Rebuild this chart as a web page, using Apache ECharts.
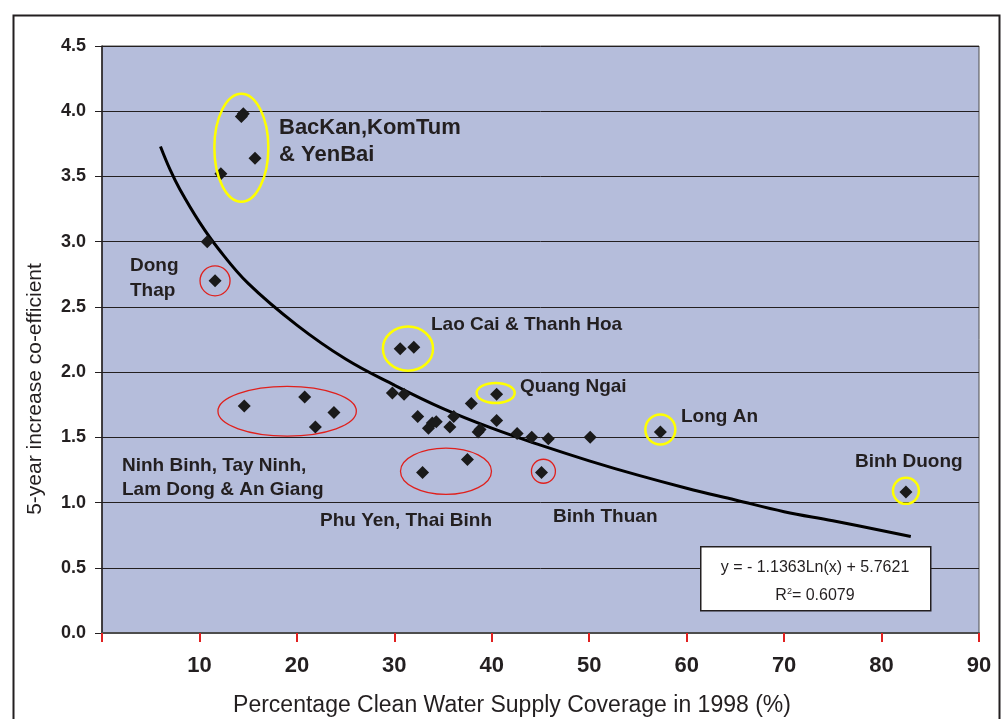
<!DOCTYPE html>
<html>
<head>
<meta charset="utf-8">
<script src="https://cdn.jsdelivr.net/npm/echarts@6/dist/echarts.min.js"></script>
<style>
html,body{margin:0;padding:0;background:#fff;}
#chart{width:1001px;height:719px;}
</style>
</head>
<body>
<div id="chart"></div>
<script>
// ---- data ----
var coverage = [14.5, 14.3, 15.7, 12.2, 10.8, 11.6, 30.6, 32.0, 40.5, 29.8, 31.0, 37.9, 32.4, 33.9, 34.3, 33.5, 36.1, 35.7, 38.8, 38.6, 40.5, 42.6, 44.1, 45.8, 50.1, 32.9, 37.5, 45.1, 14.6, 20.8, 23.8, 21.9, 57.3, 82.5];
var coefficient = [3.98, 3.96, 3.64, 3.52, 3.00, 2.70, 2.18, 2.19, 1.83, 1.84, 1.83, 1.76, 1.66, 1.61, 1.62, 1.57, 1.66, 1.58, 1.56, 1.54, 1.63, 1.53, 1.50, 1.49, 1.50, 1.23, 1.33, 1.23, 1.74, 1.81, 1.69, 1.58, 1.54, 1.08];

// logarithmic trend line
var trendX = [6, 7, 8, 10, 12, 15, 20, 25, 30, 35, 40, 45, 50, 55, 60, 65, 70, 75, 83];
var trendY = [3.73, 3.55, 3.40, 3.15, 2.94, 2.68, 2.36, 2.10, 1.90, 1.72, 1.57, 1.44, 1.32, 1.21, 1.11, 1.02, 0.93, 0.86, 0.74];

// highlight ellipses (centre and half-widths in axis units)
var ringX  = [14.3, 11.6, 31.4, 40.4, 19.0, 35.3, 45.3, 57.3, 82.5];
var ringY  = [3.72, 2.70, 2.18, 1.84, 1.70, 1.24, 1.24, 1.56, 1.09];
var ringRx = [2.77, 1.54, 2.57, 1.95, 7.10, 4.67, 1.23, 1.54, 1.33];
var ringRy = [0.414, 0.115, 0.169, 0.077, 0.19, 0.178, 0.092, 0.115, 0.10];
var ringKind = ['yellow', 'red', 'yellow', 'yellow', 'red', 'red', 'red', 'yellow', 'yellow'];

var yTicks = ['0.0', '0.5', '1.0', '1.5', '2.0', '2.5', '3.0', '3.5', '4.0', '4.5'];
var xTitle = 'Percentage Clean Water Supply Coverage in 1998 (%)';
var yTitle = '5-year increase co-efficient';
var equationText = 'y = - 1.1363Ln(x) + 5.7621';
var r2Text = '0.6079';

// ---- build chart ----
var FONT = '"Liberation Sans", Arial, sans-serif';
var INK = '#231f20';

var pts = coverage.map(function (x, i) { return [x, coefficient[i]]; });
var trend = trendX.map(function (x, i) { return [x, trendY[i]]; });
var rings = ringX.map(function (x, i) { return [x, ringY[i], ringRx[i], ringRy[i], ringKind[i] === 'yellow' ? 1 : 0]; });

var ctx = document.createElement('canvas').getContext('2d');
ctx.font = '16px ' + FONT;
var w1 = ctx.measureText(equationText).width;
var w2 = ctx.measureText('R= ' + r2Text).width + 5;

var chart = echarts.init(document.getElementById('chart'));

function lbl(text, left, cy, size, lh) {
  var n = text.split('\n').length;
  var h = (lh || size) * n;
  return {
    type: 'text', left: left, top: cy - h / 2, z: 100,
    style: { text: text, fill: INK, font: 'bold ' + size + 'px ' + FONT, lineHeight: lh || size }
  };
}

var option = {
  backgroundColor: '#ffffff',
  animation: false,
  grid: {
    left: 102, right: 22, top: 46, bottom: 86,
    outerBoundsMode: 'none',
    show: true, backgroundColor: '#b5bddb', borderColor: '#4d4d4d', borderWidth: 1
  },
  xAxis: {
    type: 'value', min: 0, max: 90, interval: 10,
    axisLine: { show: true, lineStyle: { color: '#4d4d4d', width: 2 } },
    axisTick: { show: true, length: 9, lineStyle: { color: '#e02020', width: 2 } },
    axisLabel: {
      margin: 22, fontFamily: FONT, fontWeight: 'bold', fontSize: 22, color: INK,
      formatter: function (v) { return v === 0 ? '' : String(v); }
    },
    splitLine: { show: false }
  },
  yAxis: {
    type: 'value', min: 0, max: 4.5, interval: 0.5,
    axisLine: { show: true, lineStyle: { color: INK, width: 1.5 } },
    axisTick: { show: true, length: 7, lineStyle: { color: INK, width: 1 } },
    axisLabel: {
      margin: 16, fontFamily: FONT, fontWeight: 'bold', fontSize: 18, color: INK,
      formatter: function (v) { return yTicks[Math.round(v * 2)]; }
    },
    splitLine: { show: true, lineStyle: { color: '#231f20', width: 1 } }
  },
  series: [
    {
      type: 'line', data: trend, smooth: 0.4, symbol: 'none', z: 3,
      lineStyle: { color: '#000', width: 3 }
    },
    {
      type: 'scatter', data: pts, symbol: 'diamond', symbolSize: 13, z: 4,
      itemStyle: { color: '#1a1a1a', opacity: 1 }
    },
    {
      type: 'custom', data: rings, z: 5, clip: false,
      renderItem: function (params, api) {
        var c = api.coord([api.value(0), api.value(1)]);
        var s = api.size([api.value(2), api.value(3)]);
        var yellow = api.value(4) === 1;
        return {
          type: 'ellipse',
          shape: { cx: c[0], cy: c[1], rx: s[0], ry: s[1] },
          style: { fill: 'none', stroke: yellow ? '#ffff00' : '#e0201c', lineWidth: yellow ? 2.5 : 1.3 }
        };
      }
    }
  ],
  graphic: [
    { type: 'rect', left: 11, top: 13, z: 0, silent: true,
      shape: { width: 986, height: 740 },
      style: { fill: 'none', stroke: INK, lineWidth: 2 } },
    { type: 'text', x: 35, y: 389, rotation: Math.PI / 2, z: 100,
      style: { text: yTitle, fill: INK, font: '21px ' + FONT, align: 'center', verticalAlign: 'middle' } },
    { type: 'text', x: 512, y: 706, z: 100,
      style: { text: xTitle, fill: INK, font: '23px ' + FONT, align: 'center', verticalAlign: 'middle' } },
    lbl('BacKan,KomTum\n& YenBai', 279, 141, 22, 27),
    lbl('Dong\nThap', 130, 278, 19, 25),
    lbl('Lao Cai & Thanh Hoa', 431, 325, 19),
    lbl('Quang Ngai', 520, 387, 19),
    lbl('Long An', 681, 417, 19),
    lbl('Binh Duong', 855, 462, 19),
    lbl('Binh Thuan', 553, 517, 19),
    lbl('Phu Yen, Thai Binh', 320, 521, 19),
    lbl('Ninh Binh, Tay Ninh,\nLam Dong & An Giang', 122, 478, 19, 24),
    { type: 'rect', left: 700, top: 546, z: 100,
      shape: { width: 230, height: 64 },
      style: { fill: '#ffffff', stroke: INK, lineWidth: 1.5 } },
    { type: 'text', z: 101, left: 815 - w1 / 2, top: 560,
      style: { text: equationText, fill: INK, font: '16px ' + FONT } },
    { type: 'text', z: 101, left: 815 - w2 / 2, top: 587,
      style: {
        text: '{r|R}{s|2}{r|= ' + r2Text + '}', fill: INK, font: '16px ' + FONT,
        rich: { r: { fontSize: 16, fontFamily: FONT, color: INK }, s: { fontSize: 9, fontFamily: FONT, color: INK, verticalAlign: 'top', padding: [0, 0, 8, 0] } }
      } }
  ]
};
chart.setOption(option);
</script>
</body>
</html>
